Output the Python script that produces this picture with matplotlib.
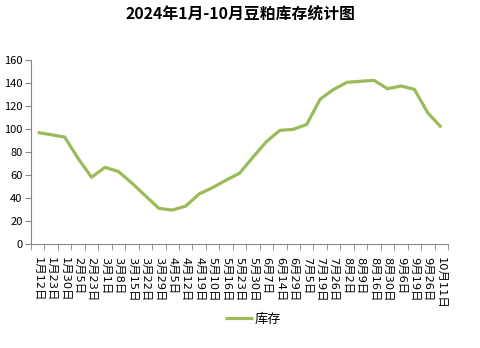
import matplotlib.pyplot as plt
import numpy as np

plt.rcParams['font.family'] = ['Noto Sans CJK SC', 'DejaVu Sans']

dates = ['1月12日', '1月23日', '1月30日', '2月5日', '2月23日', '3月1日', '3月8日',
         '3月15日', '3月22日', '3月29日', '4月5日', '4月12日', '4月19日', '5月10日',
         '5月16日', '5月23日', '5月30日', '6月7日', '6月14日', '6月29日', '7月5日',
         '7月19日', '7月26日', '8月2日', '8月9日', '8月16日', '8月30日', '9月6日',
         '9月19日', '9月26日', '10月11日']
stock = [97, 95, 93, 74.5, 58, 66.7, 63, 53, 42, 31, 29.5, 33, 43.5, 49, 55.5,
         61.5, 75.5, 89, 98.8, 99.7, 104, 126, 134.5, 140.6, 141.5, 142.3, 135,
         137.4, 134.5, 114, 101.4]

fig = plt.figure(figsize=(4.81, 3.48), dpi=100)
ax = fig.add_axes([31 / 481, 1 - 244 / 348, 417 / 481, 184 / 348])

x = np.arange(len(dates))
ax.plot(x, stock, color='#9BBB59', lw=2.3, label='库存', solid_capstyle='butt')

ax.set_xlim(-0.5, len(dates) - 0.5)
ax.set_ylim(0, 160)
ax.set_yticks(range(0, 161, 20))
ax.set_xticks(x)
# digits from DejaVu, CJK glyphs fall back to Noto
ax.set_xticklabels(dates, rotation=270, fontsize=8.2, va='top', ha='center',
                   family=['DejaVu Sans', 'Noto Sans CJK SC'])
ax.set_xticks(np.arange(-0.5, len(dates), 1), minor=True)
ax.tick_params(axis='x', which='major', length=0, pad=9.5)
ax.tick_params(axis='x', which='minor', length=4, color='#868686', direction='out')
ax.tick_params(axis='y', length=4, color='#868686', labelsize=8, pad=2)

for s in ['top', 'right']:
    ax.spines[s].set_visible(False)
for s in ['left', 'bottom']:
    ax.spines[s].set_color('#868686')

fig.text(0.5, 1 - 14 / 348, '2024年1月-10月豆粕库存统计图', ha='center', va='center',
         fontsize=11.4, fontweight='bold')

ax.legend(loc='center', bbox_to_anchor=((253 - 31) / 417, (244 - 319) / 184),
          frameon=False, fontsize=9.5, handlelength=2.1, handletextpad=0.15)

fig.savefig('out.png', dpi=100)
